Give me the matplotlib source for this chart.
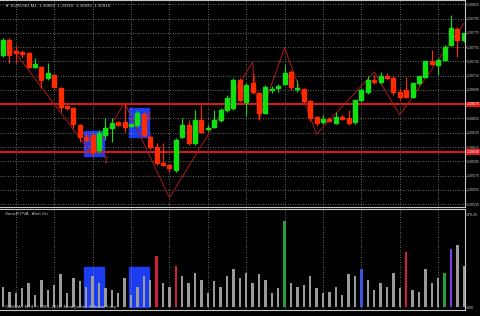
import matplotlib
matplotlib.use("Agg")
import matplotlib.pyplot as plt
from matplotlib.patches import Rectangle

# candle data (EURUSD M1)
opens = [1.30744, 1.30765, 1.30748, 1.30748, 1.30747, 1.30727, 1.30727, 1.30712, 1.30716, 1.30698,
         1.30673, 1.30670, 1.30646, 1.30629, 1.30632, 1.30611, 1.30632, 1.30642, 1.30650, 1.30650,
         1.30645, 1.30646, 1.30661, 1.30629, 1.30615, 1.30593, 1.30590, 1.30583, 1.30629, 1.30646,
         1.30621, 1.30653, 1.30640, 1.30643, 1.30653, 1.30667, 1.30670, 1.30709, 1.30678, 1.30705,
         1.30691, 1.30663, 1.30695, 1.30698, 1.30703, 1.30720, 1.30696, 1.30696, 1.30680, 1.30657,
         1.30650, 1.30654, 1.30649, 1.30657, 1.30656, 1.30650, 1.30681, 1.30692, 1.30709, 1.30706,
         1.30715, 1.30712, 1.30692, 1.30695, 1.30685, 1.30705, 1.30713, 1.30736, 1.30730, 1.30737,
         1.30758, 1.30780, 1.30765]
highs = [1.30768, 1.30768, 1.30758, 1.30751, 1.30748, 1.30740, 1.30729, 1.30733, 1.30717, 1.30699,
         1.30674, 1.30671, 1.30647, 1.30635, 1.30635, 1.30639, 1.30656, 1.30656, 1.30652, 1.30677,
         1.30647, 1.30667, 1.30664, 1.30632, 1.30621, 1.30621, 1.30591, 1.30628, 1.30656, 1.30653,
         1.30667, 1.30674, 1.30646, 1.30667, 1.30670, 1.30688, 1.30712, 1.30712, 1.30705, 1.30719,
         1.30692, 1.30702, 1.30701, 1.30703, 1.30730, 1.30723, 1.30709, 1.30698, 1.30681, 1.30659,
         1.30660, 1.30657, 1.30664, 1.30660, 1.30667, 1.30656, 1.30698, 1.30715, 1.30716, 1.30720,
         1.30719, 1.30715, 1.30698, 1.30713, 1.30695, 1.30709, 1.30716, 1.30751, 1.30740, 1.30758,
         1.30800, 1.30783, 1.30775]
lows = [1.30741, 1.30733, 1.30733, 1.30740, 1.30726, 1.30726, 1.30698, 1.30709, 1.30698, 1.30664,
        1.30667, 1.30642, 1.30622, 1.30622, 1.30604, 1.30607, 1.30625, 1.30622, 1.30645, 1.30636,
        1.30643, 1.30643, 1.30629, 1.30612, 1.30590, 1.30589, 1.30580, 1.30580, 1.30628, 1.30618,
        1.30618, 1.30635, 1.30638, 1.30642, 1.30650, 1.30664, 1.30667, 1.30678, 1.30659, 1.30689,
        1.30653, 1.30661, 1.30691, 1.30692, 1.30702, 1.30695, 1.30692, 1.30677, 1.30652, 1.30645,
        1.30647, 1.30650, 1.30647, 1.30653, 1.30646, 1.30647, 1.30678, 1.30689, 1.30703, 1.30703,
        1.30709, 1.30688, 1.30681, 1.30684, 1.30684, 1.30702, 1.30712, 1.30730, 1.30716, 1.30736,
        1.30757, 1.30741, 1.30762]
closes = [1.30765, 1.30744, 1.30747, 1.30745, 1.30727, 1.30731, 1.30709, 1.30719, 1.30699, 1.30671,
          1.30670, 1.30647, 1.30629, 1.30625, 1.30608, 1.30635, 1.30642, 1.30649, 1.30646, 1.30643,
          1.30646, 1.30663, 1.30632, 1.30615, 1.30593, 1.30590, 1.30586, 1.30625, 1.30646, 1.30621,
          1.30653, 1.30636, 1.30642, 1.30653, 1.30667, 1.30684, 1.30709, 1.30681, 1.30702, 1.30692,
          1.30663, 1.30699, 1.30696, 1.30701, 1.30719, 1.30699, 1.30698, 1.30680, 1.30656, 1.30649,
          1.30654, 1.30652, 1.30657, 1.30654, 1.30649, 1.30681, 1.30695, 1.30709, 1.30706, 1.30715,
          1.30712, 1.30692, 1.30685, 1.30685, 1.30705, 1.30715, 1.30736, 1.30731, 1.30737, 1.30755,
          1.30782, 1.30765, 1.30775]

# PVA volume histogram
volumes = [60, 45, 40, 55, 70, 35, 80, 50, 65, 95, 40, 85, 75, 60, 90, 70, 55, 50, 40, 85,
           35, 60, 90, 80, 150, 70, 60, 120, 90, 70, 100, 80, 40, 75, 60, 90, 110, 85, 100, 70,
           95, 80, 40, 55, 250, 70, 60, 65, 90, 55, 40, 45, 60, 35, 95, 90, 110, 80, 50, 70,
           60, 100, 55, 160, 50, 45, 110, 70, 85, 100, 170, 180, 120]
vol_colors = {24: "#d0203a", 27: "#d0203a", 44: "#22a040", 63: "#d0203a",
              69: "#22a040", 70: "#8040e0", 56: "#4050e0"}

# zigzag vertices (bar index, price)
zz_x = [1, 14, 19, 26, 39, 40, 44, 49, 58, 62, 72]
zz_y = [1.30758, 1.30604, 1.30677, 1.30544, 1.30734, 1.30653, 1.30754, 1.30633, 1.30720, 1.30660, 1.30788]

levels = [1.30675, 1.30608]
level_labels = ["1.30675", "1.30608"]

# signal boxes: (bar from, bar to, top price, bottom price)
boxes = [(12.7, 15.8, 1.30638, 1.30603), (19.7, 22.8, 1.30670, 1.30629)]
arrows_up = [(16, 1.30597)]
arrows_dn = [(22.7, 1.30656)]

price_ticks = [1.30815, 1.30795, 1.30775, 1.30755, 1.30735, 1.30715, 1.30695,
               1.30655, 1.30635, 1.30615, 1.30595, 1.30575, 1.30555, 1.30535]

axis_font = dict(family=["Liberation Sans", "DejaVu Sans"], size=2.6)
label_font = dict(family=["Liberation Sans", "DejaVu Sans"], size=3.2)

W, H = 481, 316
fig = plt.figure(figsize=(W / 100, H / 100), dpi=100)
fig.patch.set_facecolor("black")

ax = fig.add_axes([0, (H - 207) / H, 465 / W, 207 / H])
axv = fig.add_axes([0, (H - 310) / H, 465 / W, 101 / H])

xmin = -3 / 6.4
xmax = xmin + 465 / 6.4
for a in (ax, axv):
    a.set_facecolor("black")
    a.set_xlim(xmin, xmax)
    for s in a.spines.values():
        s.set_color("#c8c8c8")
        s.set_linewidth(0.8)
    a.spines["left"].set_visible(False)
    a.tick_params(axis="x", length=0, labelbottom=False)
    a.tick_params(axis="y", right=True, left=False, labelright=True, labelleft=False,
                  length=1, colors="#c8c8c8", pad=0.5)

ax.set_ylim(1.30531, 1.30821)
ax.set_yticks(price_ticks)
ax.set_yticklabels(["%.5f" % p for p in price_ticks], fontdict=axis_font)
ax.grid(True, color="#8a8a8a", linestyle=(0, (1, 2)), linewidth=0.6)
ax.set_xticks(range(2, 73, 6))
axv.set_xticks(range(2, 73, 6))
axv.grid(True, axis="x", color="#8a8a8a", linestyle=(0, (1, 2)), linewidth=0.6)

for b in boxes:
    ax.add_patch(Rectangle((b[0], b[3]), b[1] - b[0], b[2] - b[3], color="#1c3cf0", zorder=1))
    axv.add_patch(Rectangle((b[0], 0), b[1] - b[0], 117, color="#1c3cf0", zorder=1))

for lv, lab in zip(levels, level_labels):
    ax.axhline(lv, color="#e01818", linewidth=1.4, zorder=2)
    ax.text(1.003, lv, lab, transform=ax.get_yaxis_transform(), color="white",
            va="center", ha="left", clip_on=False, fontdict=axis_font,
            bbox=dict(boxstyle="square,pad=0.15", fc="#e01818", ec="none"))

ax.plot(zz_x, zz_y, color="#b01818", linewidth=0.7, zorder=2)

for i in range(len(opens)):
    up = closes[i] >= opens[i]
    col = "#10e010" if up else "#ff2a00"
    ax.vlines(i, lows[i], highs[i], color=col, linewidth=0.8, zorder=3)
    lo, hi = min(opens[i], closes[i]), max(opens[i], closes[i])
    if hi - lo < 0.00002:
        hi = lo + 0.00002
    ax.add_patch(Rectangle((i - 0.3, lo), 0.6, hi - lo, color=col, zorder=4))

for x, y in arrows_up:
    ax.text(x, y, "\u21e7", color="#d03030", fontsize=7, ha="center", va="center", zorder=5)
for x, y in arrows_dn:
    ax.text(x, y, "\u21e9", color="#d03030", fontsize=7, ha="center", va="center", zorder=5)

ax.text(0.01, 0.985, "\u25bc EURUSD,M1  1.30893  1.30916  1.30893  1.30916", transform=ax.transAxes,
        color="#c8c8c8", va="top", ha="left", fontdict=label_font)

bar_cols = [vol_colors.get(i, "#9a9a9a") for i in range(len(volumes))]
axv.bar(range(len(volumes)), volumes, width=0.35, color=bar_cols, zorder=3)
axv.set_ylim(-8, 285)
axv.set_yticks([270.25, 0])
axv.set_yticklabels(["270.25", "0.00"], fontdict=axis_font)
axv.text(0.01, 0.97, "SonicR PVA   Alert On", transform=axv.transAxes,
         color="#c8c8c8", va="top", ha="left", fontdict=label_font)
axv.text(0.01, 0.005, "OANDA - MT4, \u00a9 2001-2012, MetaQuotes Software Corp.", transform=axv.transAxes,
         color="#c8c8c8", va="bottom", ha="left", fontdict=label_font)

fig.savefig("out.png", dpi=100, facecolor="black")
